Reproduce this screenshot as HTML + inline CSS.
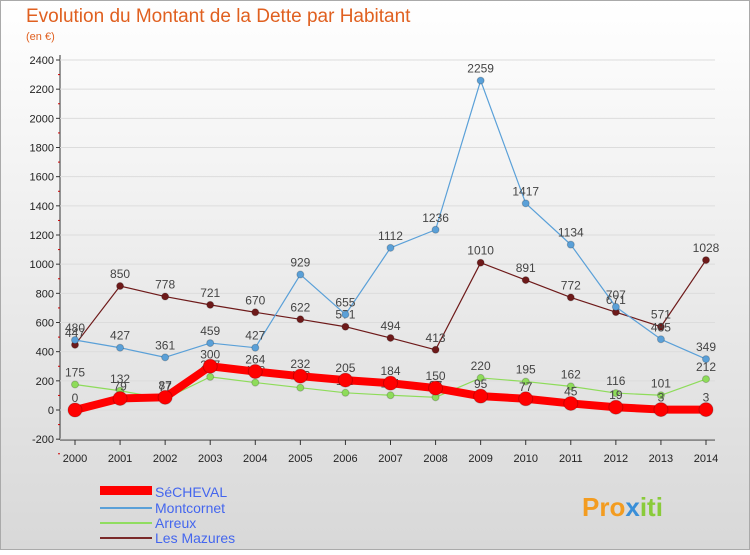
<!DOCTYPE html>
<html><head><meta charset="utf-8"><style>
body{margin:0;width:750px;height:550px;overflow:hidden;font-family:"Liberation Sans",sans-serif}
svg text{font-family:"Liberation Sans",sans-serif}
</style></head><body>
<svg id="c" width="750" height="550">
<defs><linearGradient id="bg" x1="0" y1="0" x2="0" y2="1"><stop offset="0" stop-color="#ffffff"/><stop offset="1" stop-color="#d8d8d8"/></linearGradient></defs>
<rect x="0.5" y="0.5" width="749" height="549" fill="url(#bg)" stroke="#aaa"/>
<text x="26" y="22" font-size="19" fill="#e06020">Evolution du Montant de la Dette par Habitant</text>
<text x="26" y="40" font-size="11" fill="#e06020">(en €)</text>
<g id="axes"></g><g id="series"></g>
<g>
<rect x="100" y="486" width="52" height="9" fill="#f00"/>
<text x="155" y="497" font-size="14" fill="#4466ee">SéCHEVAL</text>
<line x1="100" y1="508" x2="152" y2="508" stroke="#5aa0d8" stroke-width="2"/>
<text x="155" y="513" font-size="14" fill="#4466ee">Montcornet</text>
<line x1="100" y1="523" x2="152" y2="523" stroke="#90dd60" stroke-width="2"/>
<text x="155" y="528" font-size="14" fill="#4466ee">Arreux</text>
<line x1="100" y1="538" x2="152" y2="538" stroke="#7a2a2a" stroke-width="2"/>
<text x="155" y="543" font-size="14" fill="#4466ee">Les Mazures</text>
</g>
<text x="582" y="516" font-size="26" font-weight="bold" fill="#f39c20">Pro<tspan fill="#3a8fd8">x</tspan><tspan fill="#8acb3a">iti</tspan></text>
</svg>
<script>
const years=[2000,2001,2002,2003,2004,2005,2006,2007,2008,2009,2010,2011,2012,2013,2014];
const yTicks=[-200,0,200,400,600,800,1000,1200,1400,1600,1800,2000,2200,2400];
const secheval=[0,79,87,300,264,232,205,184,150,95,77,45,19,3,3];
const montcornet=[480,427,361,459,427,929,655,1112,1236,2259,1417,1134,707,485,349];
const arreux=[175,132,77,227,188,153,118,101,87,220,195,162,116,101,212];
const mazures=[447,850,778,721,670,622,571,494,413,1010,891,772,671,571,1028];
const NS='http://www.w3.org/2000/svg';
const X=i=>75+i*(706-75)/(years.length-1);
const Y=v=>410-v*(350/2400);
function mk(t,a,p){const e=document.createElementNS(NS,t);for(const k in a)e.setAttribute(k,a[k]);p.appendChild(e);return e;}
const ax=document.getElementById('axes');
mk('line',{x1:60,y1:55,x2:60,y2:440,stroke:'#333'},ax);
mk('line',{x1:60,y1:440,x2:715,y2:440,stroke:'#333'},ax);
yTicks.forEach(v=>{const y=Y(v);
 const g=mk('line',{x1:60,y1:y,x2:715,y2:y,stroke:'#dcdcdc'},ax);
 
 mk('line',{x1:56,y1:y,x2:60,y2:y,stroke:'#333'},ax);
 mk('line',{x1:58,y1:y+14.6,x2:60,y2:y+14.6,stroke:'#c00'},ax);
 const t=mk('text',{x:54,y:y+4,'font-size':11,'text-anchor':'end',fill:'#222'},ax);t.textContent=v;
 });
years.forEach((yr,i)=>{const x=X(i);
 mk('line',{x1:x,y1:440,x2:x,y2:445,stroke:'#333'},ax);
 const t=mk('text',{x:x,y:462,'font-size':11,'text-anchor':'middle',fill:'#222'},ax);t.textContent=yr;
 });
const sg=document.getElementById('series');
function draw(data,color,w,r,name){
 const g=mk('g',{},sg);
 
 mk('polyline',{points:data.map((v,i)=>X(i)+','+Y(v)).join(' '),fill:'none',stroke:color,'stroke-width':w,'stroke-linejoin':'round'},g);
 data.forEach((v,i)=>{const c=mk('circle',{cx:X(i),cy:Y(v),r:r,fill:color,stroke:'rgba(0,0,0,0.2)'},g);
  
  const t=mk('text',{x:X(i),y:Y(v)-8,'font-size':12,'text-anchor':'middle',fill:'#444'},g);t.textContent=v;
  });
}
draw(mazures,'#6e1a1a',1.2,3.5,'les-mazures');
draw(montcornet,'#5aa0d8',1.2,3.5,'montcornet');
draw(arreux,'#8edc5a',1.2,3.5,'arreux');
draw(secheval,'#ff0000',8,7,'secheval');
</script>
</body></html>
